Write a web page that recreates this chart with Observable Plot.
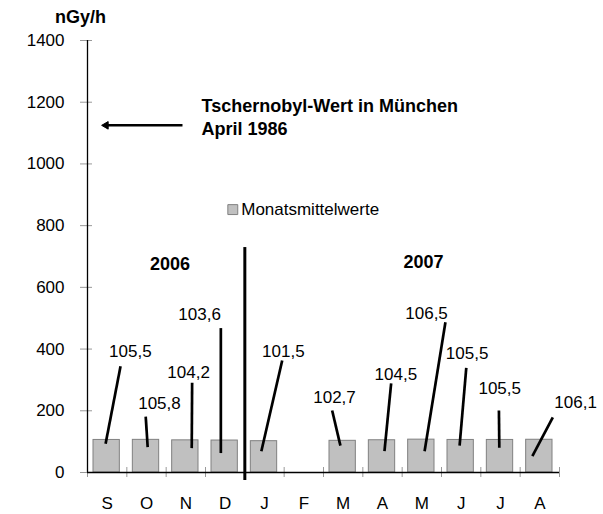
<!DOCTYPE html>
<html><head><meta charset="utf-8">
<style>body{margin:0;background:#fff;} svg{overflow:visible}</style>
<script src="https://cdn.jsdelivr.net/npm/d3@7"></script>
<script src="https://cdn.jsdelivr.net/npm/@observablehq/plot@0.6"></script>
</head><body><div id="chart"></div>
<script>
// categories (months Sep 2006 – Aug 2007)
const months = ["S","O","N","D","J","F","M","A","M","J","J","A"];
// monthly mean values in nGy/h (February has no value)
const values = [105.5,105.8,104.2,103.6,101.5,null,102.7,104.5,106.5,105.5,105.5,106.1];
const valueLabels = ["105,5","105,8","104,2","103,6","101,5",null,"102,7","104,5","106,5","105,5","105,5","106,1"];
// annotation anchors (month-index units, nGy/h)
const labelX = [1.09,1.83,2.57,2.85,4.98,null,6.28,7.84,8.62,9.65,10.48,12.41];
const labelY = [393,225,325,511,393,null,242,318,514,385,271,228];
const leaderX1 = [0.84,1.48,2.66,3.39,4.95,null,6.22,7.72,9.10,9.63,10.46,11.83];
const leaderY1 = [344,181,291,468,363,null,201,289,487,339,201,179];
const leaderX2 = [0.46,1.53,2.65,3.39,4.42,null,6.43,7.55,8.57,9.46,10.47,11.31];
const leaderY2 = [93,82,79,63,69,null,87,69,69,87,80,53];
const yTicks = [0,200,400,600,800,1000,1200,1400];
const yearLabels = [{x: 2.1, y: 675, t: "2006"}, {x: 8.54, y: 680, t: "2007"}];
const divider = {x: 4, y1: -26, y2: 729};
const chernobyl = {x1: 2.415, x2: 0.47, y: 1125, tx: 2.9, ty: 1155, t: "Tschernobyl-Wert in München\nApril 1986"};
const legend = {x: 3.694, tx: 3.908, y: 852, t: "Monatsmittelwerte"};
const unit = {x: -0.18, y: 1474, t: "nGy/h"};

const rows = months.map((m, i) => ({
  i, m, v: values[i], label: valueLabels[i],
  lx: labelX[i], ly: labelY[i],
  x1: leaderX1[i], y1: leaderY1[i], x2: leaderX2[i], y2: leaderY2[i]
})).filter(d => d.v != null);

const font = "Liberation Sans, Arial, Helvetica, sans-serif";

const chart = Plot.plot({
  width: 603, height: 514,
  marginLeft: 87, marginRight: 44, marginTop: 40, marginBottom: 42,
  x: {domain: [0, 12]},
  y: {domain: [0, 1400]},
  style: {fontFamily: font, fontSize: "17px", color: "#000", background: "#fff"},
  marks: [
    Plot.axisY({ticks: yTicks, tickSize: 12, dx: 5, tickPadding: 16, stroke: "#999", tickFormat: d => String(d), label: null, fontSize: 17}),
    Plot.axisX({ticks: d3.range(0, 13), tickSize: 10, dy: -5, stroke: "#999", tickFormat: () => "", label: null}),
    Plot.axisX({ticks: d3.range(12).map(i => i + 0.5), tickSize: 0, tickPadding: 24, tickFormat: d => months[Math.floor(d)], label: null, fontSize: 17}),
    Plot.rectY(rows, {x1: d => d.i, x2: d => d.i + 1, y: "v", insetLeft: 6, insetRight: 7, fill: "#c0c0c0", stroke: "#808080", strokeWidth: 1}),
    Plot.ruleX([0], {stroke: "#000", strokeWidth: 1.3}),
    Plot.ruleY([0], {stroke: "#000", strokeWidth: 1.3}),
    Plot.ruleX([divider], {x: "x", y1: "y1", y2: "y2", stroke: "#000", strokeWidth: 3}),
    Plot.link(rows, {x1: "x1", y1: "y1", x2: "x2", y2: "y2", stroke: "#000", strokeWidth: 2.7}),
    Plot.text(rows, {x: "lx", y: "ly", text: "label", fill: "#000", fontSize: 17}),
    Plot.text(yearLabels, {x: "x", y: "y", text: "t", fill: "#000", fontSize: 18, fontWeight: "bold"}),
    Plot.link([chernobyl], {x1: "x1", x2: "x2", y1: "y", y2: "y", stroke: "#000", strokeWidth: 2.5}),
    Plot.dot([chernobyl], {x: "x2", y: "y", symbol: "triangle2", r: 3.6, rotate: 270, fill: "#000", stroke: "#000", strokeWidth: 1}),
    Plot.text([chernobyl], {x: "tx", y: "ty", text: "t", textAnchor: "start", lineHeight: 1.3, fill: "#000", fontSize: 18, fontWeight: "bold"}),
    Plot.dot([legend], {x: "x", y: "y", symbol: "square", r: 5.6, fill: "#c0c0c0", stroke: "#808080", strokeWidth: 1}),
    Plot.text([legend], {x: "tx", y: "y", text: "t", textAnchor: "start", fill: "#000", fontSize: 17}),
    Plot.text([unit], {x: "x", y: "y", text: "t", fill: "#000", fontSize: 18, fontWeight: "bold"})
  ]
});
document.getElementById("chart").appendChild(chart);
</script>
</body></html>
